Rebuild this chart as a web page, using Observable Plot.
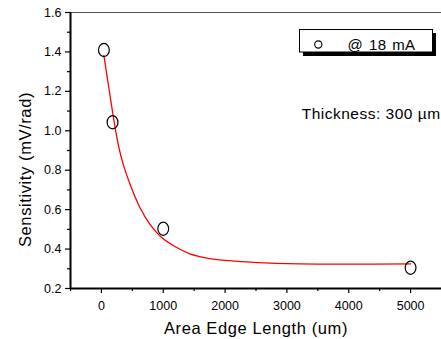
<!DOCTYPE html>
<html><head><meta charset="utf-8">
<script src="https://cdn.jsdelivr.net/npm/d3@7"></script>
<script src="https://cdn.jsdelivr.net/npm/@observablehq/plot@0.6"></script>
<style>
body{margin:0;background:#fff;}
#wrap{position:relative;width:441px;height:339px;font-family:"Liberation Sans",Arial,sans-serif;}
#legend{position:absolute;left:296px;top:26px;}
</style></head><body><div id="wrap"></div>
<script>
// Measured points
const edgeLength = [40, 180, 1000, 5000];
const sensitivity = [1.41, 1.043, 0.503, 0.305];
// Fitted curve
const fitX = [40, 110, 190, 270, 350, 460, 620, 780, 970, 1210, 1430, 1590, 1910, 2450, 3200, 5000];
const fitY = [1.382, 1.238, 1.077, 0.934, 0.832, 0.731, 0.612, 0.528, 0.460, 0.409, 0.376, 0.362, 0.345, 0.333, 0.325, 0.325];
// Ticks
const xTicks = [0, 1000, 2000, 3000, 4000, 5000];
const xMinorTicks = [-500, 500, 1500, 2500, 3500, 4500];
const yTicks = [0.2, 0.4, 0.6, 0.8, 1.0, 1.2, 1.4, 1.6];
const yMinorTicks = [0.3, 0.5, 0.7, 0.9, 1.1, 1.3, 1.5];
const xTitle = "Area Edge Length (um)";
const yTitle = "Sensitivity (mV/rad)";
const legendLabel = "@ 18 mA";
const note = "Thickness: 300 \u00b5m";

const points = edgeLength.map((x, i) => ({x, y: sensitivity[i]}));
const fit = fitX.map((x, i) => ({x, y: fitY[i]}));

// slightly tall ellipse symbol for the open circles
const ellipse = {
  draw(ctx, size) {
    const r = Math.sqrt(size / Math.PI);
    const rx = r * 0.9, ry = r * 1.1, k = 0.5523;
    ctx.moveTo(rx, 0);
    ctx.bezierCurveTo(rx, k * ry, k * rx, ry, 0, ry);
    ctx.bezierCurveTo(-k * rx, ry, -rx, k * ry, -rx, 0);
    ctx.bezierCurveTo(-rx, -k * ry, -k * rx, -ry, 0, -ry);
    ctx.bezierCurveTo(k * rx, -ry, rx, -k * ry, rx, 0);
    ctx.closePath();
  }
};

const font = "Liberation Sans, Arial, sans-serif";
const chart = Plot.plot({
  width: 441,
  height: 339,
  marginLeft: 70,
  marginRight: 0,
  marginTop: 12,
  marginBottom: 51,
  style: {fontFamily: font, background: "#fff", color: "#000"},
  x: {domain: [-500, 5500]},
  y: {domain: [0.2, 1.6]},
  marks: [
    Plot.ruleY([1.6], {stroke: "#555", strokeWidth: 1.2}),
    Plot.axisX(xTicks, {tickSize: 5, tickPadding: 8, fontSize: 12.5, label: null, tickFormat: d => String(d), strokeWidth: 1.2}),
    Plot.axisX(xMinorTicks, {tickSize: 3, text: null, label: null, strokeWidth: 1.2}),
    Plot.axisY(yTicks, {tickSize: 5, tickPadding: 4, fontSize: 12.5, label: null, tickFormat: d3.format(".1f"), strokeWidth: 1.2}),
    Plot.axisY(yMinorTicks, {tickSize: 3, text: null, label: null, strokeWidth: 1.2}),
    Plot.ruleX([-500], {stroke: "#000", strokeWidth: 2}),
    Plot.ruleY([0.2], {stroke: "#000", strokeWidth: 2}),
    Plot.line(fit, {x: "x", y: "y", stroke: "#ff0000", strokeWidth: 1.3, curve: "catmull-rom"}),
    Plot.dot(points, {x: "x", y: "y", r: 6, symbol: ellipse, stroke: "#000", strokeWidth: 1.2, fill: "none"}),
    Plot.text([xTitle], {frameAnchor: "bottom", textAnchor: "middle", lineAnchor: "middle", dy: 40.5, fontSize: 16.5, fill: "#000"}),
    Plot.text([yTitle], {frameAnchor: "left", textAnchor: "middle", lineAnchor: "middle", rotate: -90, dx: -44.7, dy: 19, fontSize: 16.5, fill: "#000"}),
    Plot.text([note], {frameAnchor: "top-right", textAnchor: "start", lineAnchor: "middle", dx: -139.8, dy: 101.8, fontSize: 15.5, fill: "#000"})
  ]
});
// letter spacing on text marks
chart.querySelectorAll("text").forEach(t => {
  const s = t.textContent;
  if (s === xTitle || s === yTitle) t.style.letterSpacing = "0.6px";
  if (s === note) t.style.letterSpacing = "0.5px";
});
const wrap = document.getElementById("wrap");
wrap.appendChild(chart);

// legend box with drop shadow
const ns = "http://www.w3.org/2000/svg";
const lg = document.createElementNS(ns, "svg");
lg.setAttribute("id", "legend");
lg.setAttribute("width", 145);
lg.setAttribute("height", 34);
lg.innerHTML = `
  <rect x="7" y="7" width="133" height="23" fill="#000"/>
  <rect x="3.5" y="3.5" width="133" height="22.5" fill="#fff" stroke="#000" stroke-width="1"/>
  <circle cx="22.3" cy="18.5" r="3.6" fill="none" stroke="#000" stroke-width="1.1"/>
  <text x="51.5" y="23.8" font-family="${font}" font-size="15" letter-spacing="0.3" word-spacing="1.5" fill="#000">${legendLabel}</text>`;
wrap.appendChild(lg);
</script>
</body></html>
